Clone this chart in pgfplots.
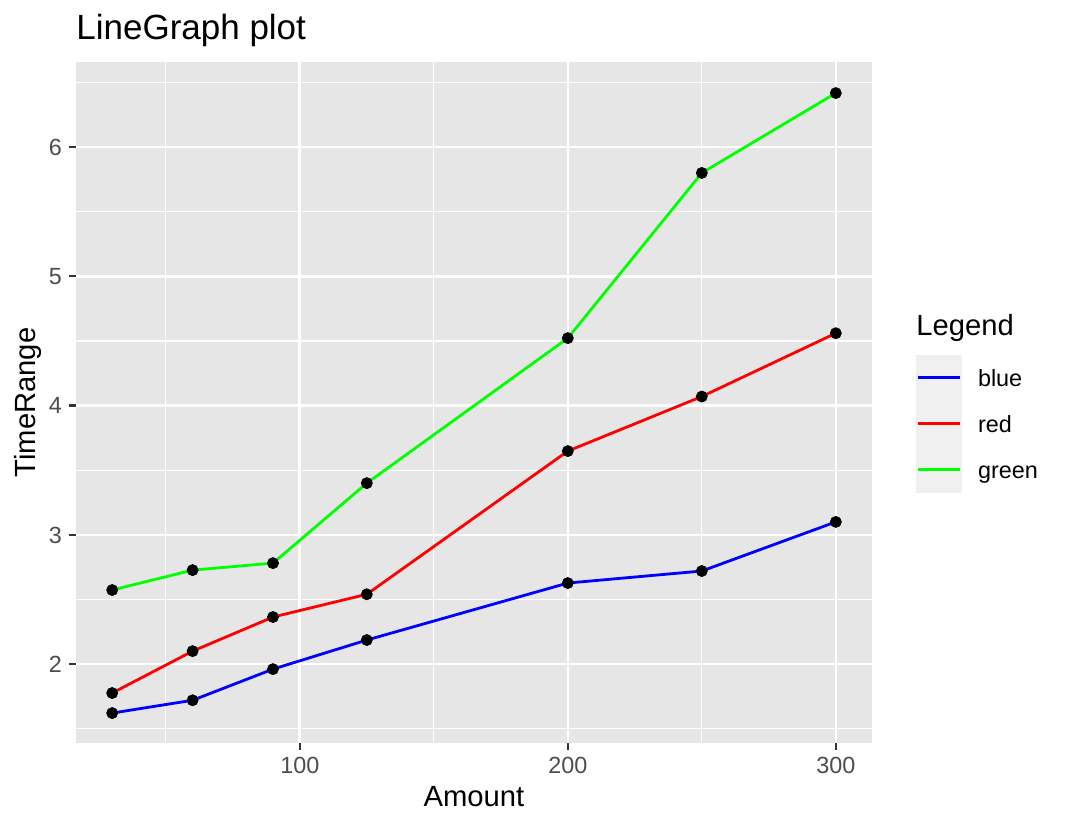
\documentclass[border=0pt]{standalone}
\usepackage{fontspec}
\setmainfont{Liberation Sans}
\usepackage{pgfplots}
\usepackage{pgfplotstable}
\pgfplotsset{compat=1.18}
\definecolor{panelbg}{HTML}{E6E6E6}
\definecolor{keybg}{HTML}{F0F0F0}
\definecolor{ticklab}{HTML}{4D4D4D}
\definecolor{tickcol}{HTML}{333333}
\definecolor{ggblue}{HTML}{0000FF}
\definecolor{ggred}{HTML}{FF0000}
\definecolor{gggreen}{HTML}{00FF00}

\pgfplotstableread{
x blue red green
30 1.621 1.776 2.573
60 1.720 2.100 2.727
90 1.961 2.364 2.781
125 2.186 2.540 3.400
200 2.627 3.648 4.522
250 2.720 4.070 5.800
300 3.100 4.560 6.418
}\datatable

\begin{document}
\begin{tikzpicture}
\useasboundingbox (0,0) rectangle (533pt,414pt);
\begin{axis}[
  at={(38pt,42.5pt)}, anchor=south west,
  scale only axis, width=398pt, height=340.5pt,
  xmin=16.5, xmax=313.5, ymin=1.3895, ymax=6.6585,
  axis background/.style={fill=panelbg},
  axis line style={draw=none},
  xtick={100,200,300}, ytick={2,3,4,5,6},
  minor xtick={50,150,250}, minor ytick={1.5,2.5,3.5,4.5,5.5,6.5},
  grid=both,
  major grid style={white, line width=1.3pt},
  minor grid style={white, line width=0.65pt},
  tick align=outside, tick pos=left,
  major tick length=3.6pt, minor tick length=0pt,
  every tick/.style={tickcol, line width=1.1pt},
  /pgf/number format/assume math mode=true,
  tick label style={font=\fontsize{11.7}{13}\selectfont, text=ticklab, inner sep=0pt},
  xticklabel style={anchor=north, text height=8.4pt, text depth=0pt},
  yticklabel style={anchor=east, text height=8.4pt, text depth=0pt},
  xticklabel shift=3.2pt, yticklabel shift=3.2pt,
  xlabel={Amount},
  xlabel style={at={(axis description cs:0.5,-0.0935)}, anchor=base, inner sep=0pt, font=\fontsize{14.6}{17}\selectfont},
  ylabel={TimeRange},
  ylabel style={at={(axis description cs:-0.0503,0.5)}, anchor=base, rotate=0, inner sep=0pt, font=\fontsize{14.6}{17}\selectfont},
  title={LineGraph plot},
  every axis title/.style={at={(axis description cs:0,1.0323)}, anchor=base west, inner sep=0pt, font=\fontsize{17.5}{20}\selectfont},
  legend style={at={(axis description cs:1.0553,0.5698)}, anchor=north west, draw=none, fill=none,
    inner sep=0pt, outer sep=0pt, row sep=0pt, column sep=6pt,
    font=\fontsize{11.7}{13}\selectfont, cells={anchor=west}},
  legend cell align=left,
  legend image code/.code={\fill[keybg, draw=none] (0pt,-11.5pt) rectangle (23pt,11.5pt); \draw[#1, line width=1.5pt] (1pt,0pt) -- (22pt,0pt);},
]
\addplot[ggblue, line width=1.4pt, no marks] table[x=x,y=blue]{\datatable};
\addlegendentry[text height=8.4pt, text depth=0pt]{blue}
\addplot[ggred, line width=1.4pt, no marks] table[x=x,y=red]{\datatable};
\addlegendentry[text height=8.4pt, text depth=0pt]{red}
\addplot[gggreen, line width=1.4pt, no marks] table[x=x,y=green]{\datatable};
\addlegendentry[text height=8.4pt, text depth=0pt]{green}
\addplot[forget plot, only marks, mark=*, mark size=2.8pt, mark options={fill=black, draw=black, line width=0.3pt}] table[x=x,y=blue]{\datatable};
\addplot[forget plot, only marks, mark=*, mark size=2.8pt, mark options={fill=black, draw=black, line width=0.3pt}] table[x=x,y=red]{\datatable};
\addplot[forget plot, only marks, mark=*, mark size=2.8pt, mark options={fill=black, draw=black, line width=0.3pt}] table[x=x,y=green]{\datatable};
\end{axis}
\node[anchor=base west, inner sep=0pt, font=\fontsize{14.6}{17}\selectfont] at (458pt,246pt) {Legend};
\end{tikzpicture}
\end{document}
